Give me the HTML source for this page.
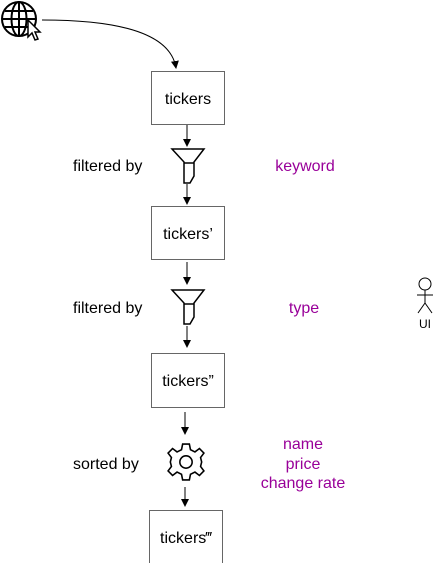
<!DOCTYPE html>
<html><head><style>
body{margin:0;background:#fff;width:448px;height:563px;overflow:hidden;font-family:"Liberation Sans",Helvetica,sans-serif}
</style></head><body>
<svg width="448" height="563" viewBox="0 0 448 563" xmlns="http://www.w3.org/2000/svg" font-family="Liberation Sans, sans-serif">
<defs><marker id="a" markerWidth="8" markerHeight="8" refX="7" refY="4" orient="auto" markerUnits="userSpaceOnUse"><path d="M0,0 L8,4 L0,8 Z" fill="#000"/></marker></defs>
<g stroke="#000" stroke-width="2" fill="none">
<circle cx="19" cy="19" r="17"/>
<ellipse cx="19" cy="19" rx="7.5" ry="17"/>
<line x1="19" y1="2" x2="19" y2="36"/>
<line x1="2" y1="19" x2="36" y2="19"/>
<line x1="5" y1="11" x2="33" y2="11"/>
<line x1="5" y1="27" x2="33" y2="27"/>
</g>
<path d="M28,20 L28,37 L32,33 L35,40 L38,39 L35,32 L40,32 Z" fill="#fff" stroke="#000" stroke-width="1.5"/>
<path d="M42,20 C110,20 170,30 176,68" fill="none" stroke="#000" stroke-width="1" marker-end="url(#a)"/>
<g fill="#fff" stroke="#666" stroke-width="1">
<rect x="151.5" y="71.5" width="73" height="53"/>
<rect x="151.5" y="206.5" width="73" height="53"/>
<rect x="151.5" y="353.5" width="73" height="54"/>
<rect x="149.5" y="510.5" width="73" height="53"/>
</g>
<g font-size="16" text-anchor="middle" fill="#000">
<text x="188" y="104">tickers</text>
<text x="188" y="239">tickers’</text>
<text x="188" y="386">tickers”</text>
<text x="186" y="543">tickers‴</text>
</g>
<g stroke="#000" stroke-width="1" marker-end="url(#a)">
<line x1="187" y1="125" x2="187" y2="146"/>
<line x1="187" y1="184" x2="187" y2="204"/>
<line x1="187" y1="262" x2="187" y2="284"/>
<line x1="187" y1="326" x2="187" y2="347"/>
<line x1="185" y1="412" x2="185" y2="434"/>
<line x1="185" y1="487" x2="185" y2="506"/>
</g>
<g fill="#fff" stroke="#000" stroke-width="1.5">
<path d="M172,149 L204,149 L194,162 L194,176 L190,183 L184,183 L184,162 Z"/>
<line x1="184" y1="163" x2="194" y2="163"/>
<path d="M172,290 L204,290 L194,303 L194,317 L190,324 L184,324 L184,303 Z"/>
<line x1="184" y1="304" x2="194" y2="304"/>
</g>
<g transform="translate(186,462) scale(1.12)" fill="none" stroke="#000" stroke-width="1.4">
<path d="M-3,-16 L3,-16 L4,-11 L8,-9 L12,-12 L16,-8 L13,-4 L14,0 L13,4 L16,8 L12,12 L8,9 L4,11 L3,16 L-3,16 L-4,11 L-8,9 L-12,12 L-16,8 L-13,4 L-14,0 L-13,-4 L-16,-8 L-12,-12 L-8,-9 L-4,-11 Z"/>
<circle r="5.5"/>
</g>
<g font-size="16" fill="#000">
<text x="73" y="171">filtered by</text>
<text x="73" y="313">filtered by</text>
<text x="73" y="469">sorted by</text>
</g>
<g font-size="16" fill="#990099" text-anchor="middle">
<text x="305" y="171">keyword</text>
<text x="304" y="313">type</text>
<text x="303" y="449">name</text>
<text x="303" y="469">price</text>
<text x="303" y="488">change rate</text>
</g>
<g stroke="#000" stroke-width="1" fill="#fff">
<circle cx="425" cy="284" r="6"/>
<line x1="425" y1="290" x2="425" y2="303"/>
<line x1="417" y1="295" x2="433" y2="295"/>
<line x1="425" y1="303" x2="418" y2="313"/>
<line x1="425" y1="303" x2="432" y2="313"/>
</g>
<text x="425" y="328" font-size="12" text-anchor="middle">UI</text>
</svg>
</body></html>
